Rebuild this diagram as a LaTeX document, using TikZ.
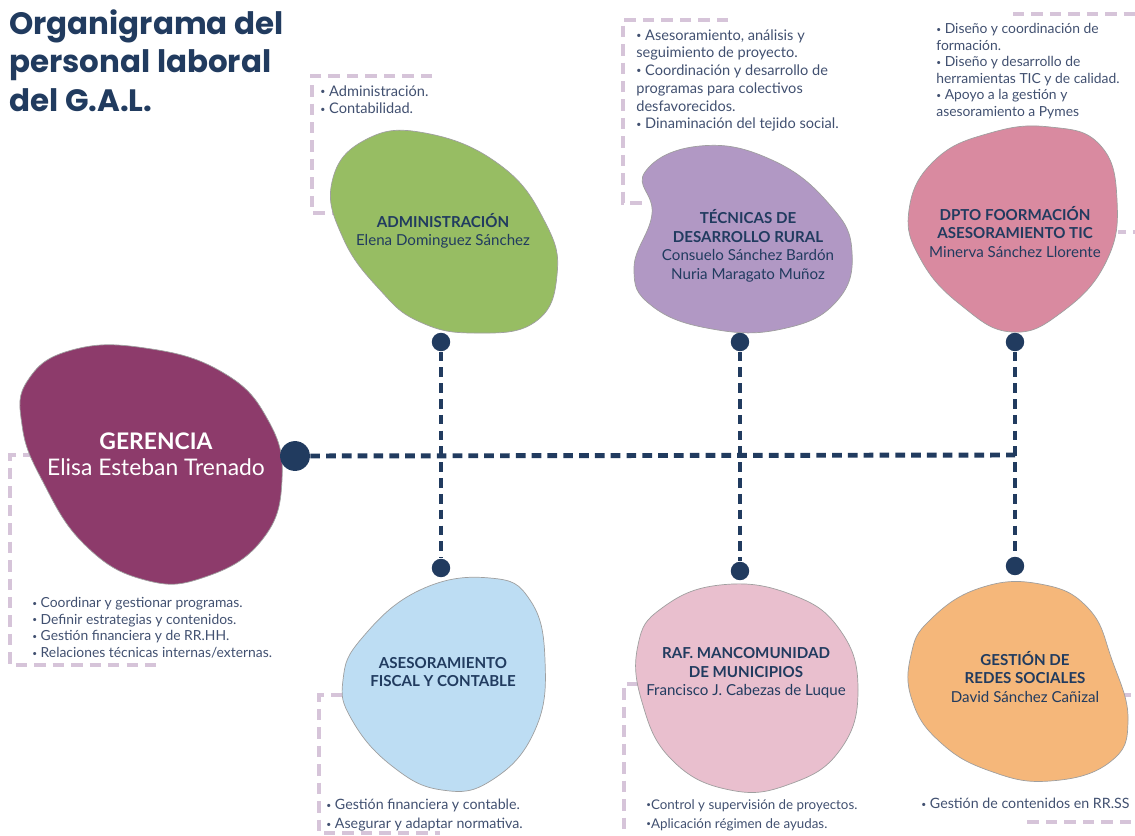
\documentclass[tikz,border=0pt]{standalone}
\usepackage{fontspec}
\setmainfont{Lato}
\newfontfamily\titlefont{Poppins}
\usepackage{tikz}
\usetikzlibrary{positioning}
\definecolor{navy}{HTML}{213B5F}
\definecolor{inkGrey}{HTML}{415070}
\definecolor{lilac}{HTML}{D6C4D9}
\definecolor{gerColor}{HTML}{8D3B6B}
\definecolor{adminColor}{HTML}{97BD63}
\definecolor{ruralColor}{HTML}{B198C4}
\definecolor{ticColor}{HTML}{D98AA0}
\definecolor{fiscalColor}{HTML}{BDDDF3}
\definecolor{rafColor}{HTML}{E9BFCE}
\definecolor{redesColor}{HTML}{F5B77A}
\newcommand{\bul}{\raisebox{0.22ex}{\scalebox{0.6}{•}}} % small bullet of the task lists
\tikzset{
    x=0.02cm, y=-0.02cm, % one unit is one pixel of the sketch, y grows downwards
    every node/.style={inner sep=0pt}, % text sits right on its anchor
}

\begin{document}
\begin{tikzpicture}[
                                styleBlob/.style={draw=gray!75, line width=0.4pt},
                                styleLink/.style={draw=navy, line width=2.8pt, dash pattern=on 5.5pt off 3.5pt},
                                styleDot/.style={circle, fill=navy, minimum size=10.5pt},
                                styleBigDot/.style={circle, fill=navy, minimum size=17pt},
                                styleBracket/.style={draw=lilac, line width=1.9pt, dash pattern=on 6.5pt off 4pt},
                                styleNote/.style={align=left, anchor=north west, text=inkGrey},
                                styleHead/.style={align=center, text=navy, font=\fontsize{8.6}{10.5}\selectfont},
                            ]
                            \useasboundingbox (0,0) rectangle (1135,835);
                            \clip (0,0) rectangle (1135,835);
                            % title
                            \node[anchor=north west, align=left, text=navy, font=\titlefont\bfseries\fontsize{17.6}{22}\selectfont] (title) at (9,9) {Organigrama del\\personal laboral\\del G.A.L.};
                            % dashed brackets
                            \draw[styleBracket] (432,76) -- (312,76) -- (312,213) -- (335,213);
                            \draw[styleBracket] (728,20) -- (623,20) -- (623,203) -- (645,203);
                            \draw[styleBracket] (1013,14) -- (1145,14) -- (1145,232) -- (1118,232);
                            \draw[styleBracket] (34,455) -- (10,455) -- (10,665) -- (157,665);
                            \draw[styleBracket] (342,695) -- (319,695) -- (319,833) -- (440,833);
                            \draw[styleBracket] (638,684) -- (624,684) -- (624,845);
                            \draw[styleBracket] (1120,695) -- (1145,695) -- (1145,822) -- (1027,822);
                            % blobs
                            \path[styleBlob, fill=gerColor] plot[smooth cycle, tension=0.75] coordinates {(28,380) (72,350) (145,348) (222,372) (268,420) (282,480) (262,540) (205,577) (145,580) (85,545) (42,480) (22,425)};
                            \path[styleBlob, fill=adminColor] plot[smooth cycle, tension=0.75] coordinates {(332,182) (365,140) (425,133) (500,165) (545,222) (557,275) (535,322) (475,333) (420,322) (380,290) (343,238)};
                            \path[styleBlob, fill=ruralColor] plot[smooth cycle, tension=0.75] coordinates {(645,172) (700,146) (772,160) (830,205) (852,252) (836,302) (782,329) (712,329) (652,306) (634,268) (652,214)};
                            \path[styleBlob, fill=ticColor] plot[smooth cycle, tension=0.75] coordinates {(1050,127) (1100,145) (1117,200) (1106,262) (1062,312) (1012,332) (962,306) (921,260) (909,210) (935,160) (990,133)};
                            \path[styleBlob, fill=fiscalColor] plot[smooth cycle, tension=0.75] coordinates {(362,638) (420,590) (490,578) (530,600) (545,660) (535,730) (492,780) (442,790) (392,766) (352,720) (343,680)};
                            \path[styleBlob, fill=rafColor] plot[smooth cycle, tension=0.75] coordinates {(662,608) (720,585) (790,594) (840,630) (858,690) (840,750) (790,784) (730,790) (672,760) (642,702) (638,645)};
                            \path[styleBlob, fill=redesColor] plot[smooth cycle, tension=0.75] coordinates {(930,620) (980,588) (1040,584) (1088,608) (1112,660) (1128,720) (1110,762) (1050,781) (990,771) (940,742) (912,700) (911,655)};
                            % people
                            \node[align=center, text=white, font=\fontsize{13}{15}\selectfont] (gerencia) at (156,454) {\textbf{GERENCIA}\\Elisa Esteban Trenado};
                            \node[styleHead] (admin) at (443,231) {\textbf{ADMINISTRACIÓN}\\Elena Dominguez Sánchez};
                            \node[styleHead] (rural) at (748,246) {\textbf{TÉCNICAS DE}\\\textbf{DESARROLLO RURAL}\\Consuelo Sánchez Bardón\\Nuria Maragato Muñoz};
                            \node[styleHead] (tic) at (1015,232) {\textbf{DPTO FOORMACIÓN}\\\textbf{ASESORAMIENTO TIC}\\Minerva Sánchez Llorente};
                            \node[styleHead] (fiscal) at (443,672) {\textbf{ASESORAMIENTO}\\\textbf{FISCAL Y CONTABLE}};
                            \node[styleHead] (raf) at (746,673) {\textbf{RAF. MANCOMUNIDAD}\\\textbf{DE MUNICIPIOS}\\Francisco J. Cabezas de Luque};
                            \node[styleHead] (redes) at (1025,677) {\textbf{GESTIÓN DE}\\\textbf{REDES SOCIALES}\\David Sánchez Cañizal};
                            % tasks
                            \node[styleNote, font=\fontsize{8.3}{10.1}\selectfont] (adminNote) at (320,85) {\bul\ Administración.\\\bul\ Contabilidad.};
                            \node[styleNote, font=\fontsize{8.3}{10.1}\selectfont] (ruralNote) at (636,29) {\bul\ Asesoramiento, análisis y\\seguimiento de proyecto.\\\bul\ Coordinación y desarrollo de\\programas para colectivos\\desfavorecidos.\\\bul\ Dinaminación del tejido social.};
                            \node[styleNote, font=\fontsize{7.9}{9.4}\selectfont] (ticNote) at (936,23) {\bul\ Diseño y coordinación de\\formación.\\\bul\ Diseño y desarrollo de\\herramientas TIC y de calidad.\\\bul\ Apoyo a la gestión y\\asesoramiento a Pymes};
                            \node[styleNote, font=\fontsize{7.9}{9.5}\selectfont] (gerNote) at (32,597) {\bul\ Coordinar y gestionar programas.\\\bul\ Definir estrategias y contenidos.\\\bul\ Gestión financiera y de RR.HH.\\\bul\ Relaciones técnicas internas/externas.};
                            \node[styleNote, font=\fontsize{8.1}{10.8}\selectfont] (fiscalNote) at (326,799) {\bul\ Gestión financiera y contable.\\\bul\ Asegurar y adaptar normativa.};
                            \node[styleNote, font=\fontsize{7.6}{10.8}\selectfont] (rafNote) at (646,799) {\bul Control y supervisión de proyectos.\\\bul Aplicación régimen de ayudas.};
                            \node[styleNote, font=\fontsize{8.1}{10}\selectfont] (redesNote) at (921,798) {\bul\ Gestión de contenidos en RR.SS};
                            % connectors
                            \node[styleBigDot] (gerDot) at (295,456) {};
                            \node[styleDot] (adminDot) at (441,342) {};
                            \node[styleDot] (fiscalDot) at (441,568) {};
                            \node[styleDot] (ruralDot) at (740,342) {};
                            \node[styleDot] (rafDot) at (740,571) {};
                            \node[styleDot] (ticDot) at (1015,342) {};
                            \node[styleDot] (redesDot) at (1015,566) {};
                            \coordinate (hubEnd) at (1015,455);
                            \draw[styleLink] (gerDot) -- (hubEnd);
                            \draw[styleLink] (adminDot) -- (fiscalDot);
                            \draw[styleLink] (ruralDot) -- (rafDot);
                            \draw[styleLink] (ticDot) -- (redesDot);
                        \end{tikzpicture}
\end{document}
